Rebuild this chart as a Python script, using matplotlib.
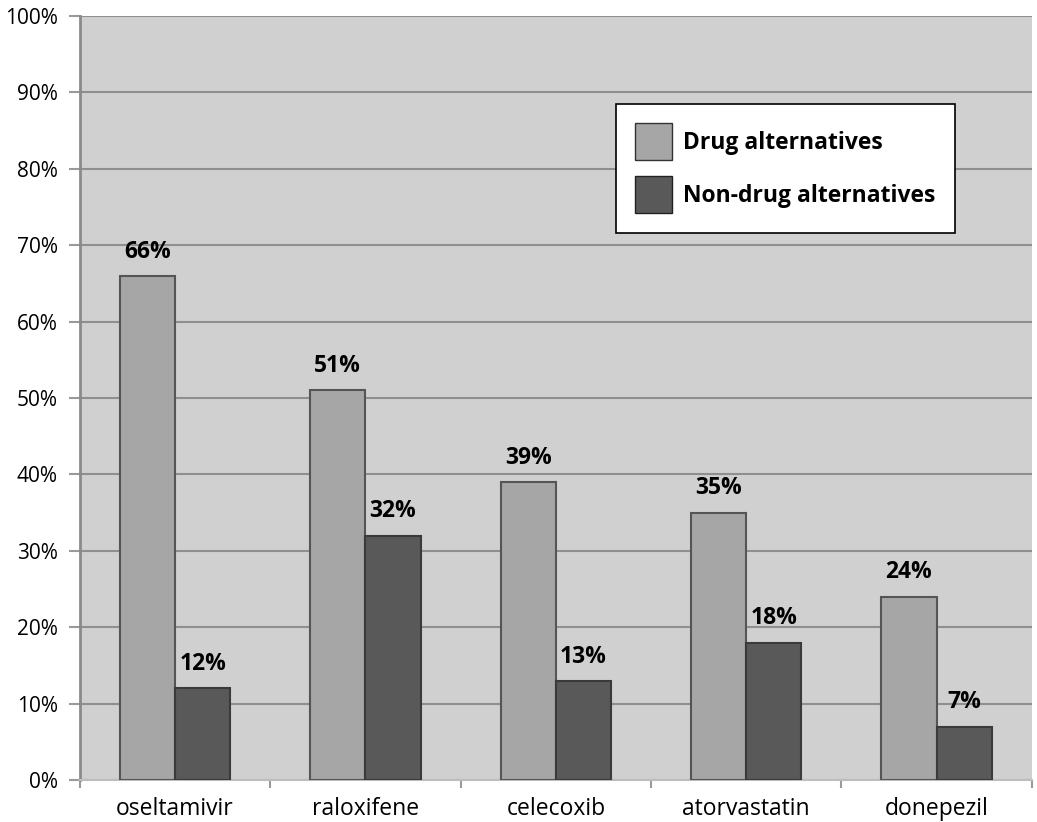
import numpy as np
import matplotlib.pyplot as plt
from matplotlib.patches import Patch

drugs = ["oseltamivir", "raloxifene", "celecoxib", "atorvastatin", "donepezil"]
drug_alt = [66, 51, 39, 35, 24]
nondrug_alt = [12, 32, 13, 18, 7]
series_names = ["Drug alternatives", "Non-drug alternatives"]

plt.rcParams['font.family'] = ['Open Sans', 'DejaVu Sans']

fig = plt.figure(figsize=(10.37, 8.22), dpi=100)
ax = fig.add_axes([0.077, 0.051, 0.918, 0.9295])
ax.set_facecolor('#d0d0d0')

x = np.arange(len(drugs))
w = 0.29
b1 = ax.bar(x - w / 2, drug_alt, w, color='#a6a6a6', edgecolor='#555555', linewidth=1.5, zorder=3)
b2 = ax.bar(x + w / 2, nondrug_alt, w, color='#595959', edgecolor='#3a3a3a', linewidth=1.5, zorder=3)

for bars, vals in ((b1, drug_alt), (b2, nondrug_alt)):
    for r, v in zip(bars, vals):
        ax.text(r.get_x() + r.get_width() / 2, v + 1.6, f"{v}%", ha='center', va='bottom',
                fontsize=16.5, fontweight='bold', zorder=4)

ax.set_xlim(-0.5, len(drugs) - 0.5)
ax.set_ylim(0, 100)
ax.set_yticks(range(0, 101, 10))
ax.set_yticklabels([f"{t}%" for t in range(0, 101, 10)], fontsize=15)
ax.yaxis.grid(True, color='#8f8f8f', linewidth=1.5, zorder=1)
ax.set_xticks(x)
ax.set_xticklabels(drugs, fontsize=16.5)
ax.set_xticks(np.arange(-0.5, len(drugs)), minor=True)
ax.tick_params(axis='x', which='major', length=0, pad=12)
ax.tick_params(axis='x', which='minor', length=6, color='#9a9a9a', width=1.5)
ax.tick_params(axis='y', length=8, color='#9a9a9a', width=1.5, pad=8)

for s in ('top', 'right'):
    ax.spines[s].set_visible(False)
ax.spines['left'].set_color('#8a8a8a')
ax.spines['left'].set_linewidth(2)
ax.spines['bottom'].set_color('#bdbdbd')
ax.spines['bottom'].set_linewidth(1.5)

handles = [Patch(facecolor='#a6a6a6', edgecolor='#333333', label=series_names[0]),
           Patch(facecolor='#595959', edgecolor='#222222', label=series_names[1])]
leg = ax.legend(handles=handles, loc='upper left', bbox_to_anchor=(0.563, 0.885),
                prop={'size': 16.5, 'weight': 'bold'}, frameon=True, fancybox=False,
                edgecolor='black', framealpha=1, handlelength=1.6, handleheight=2.1,
                handletextpad=0.48, borderpad=0.85, borderaxespad=0, labelspacing=0.7)
leg.get_frame().set_linewidth(1.2)

fig.savefig('out.png', dpi=100, facecolor='white')
